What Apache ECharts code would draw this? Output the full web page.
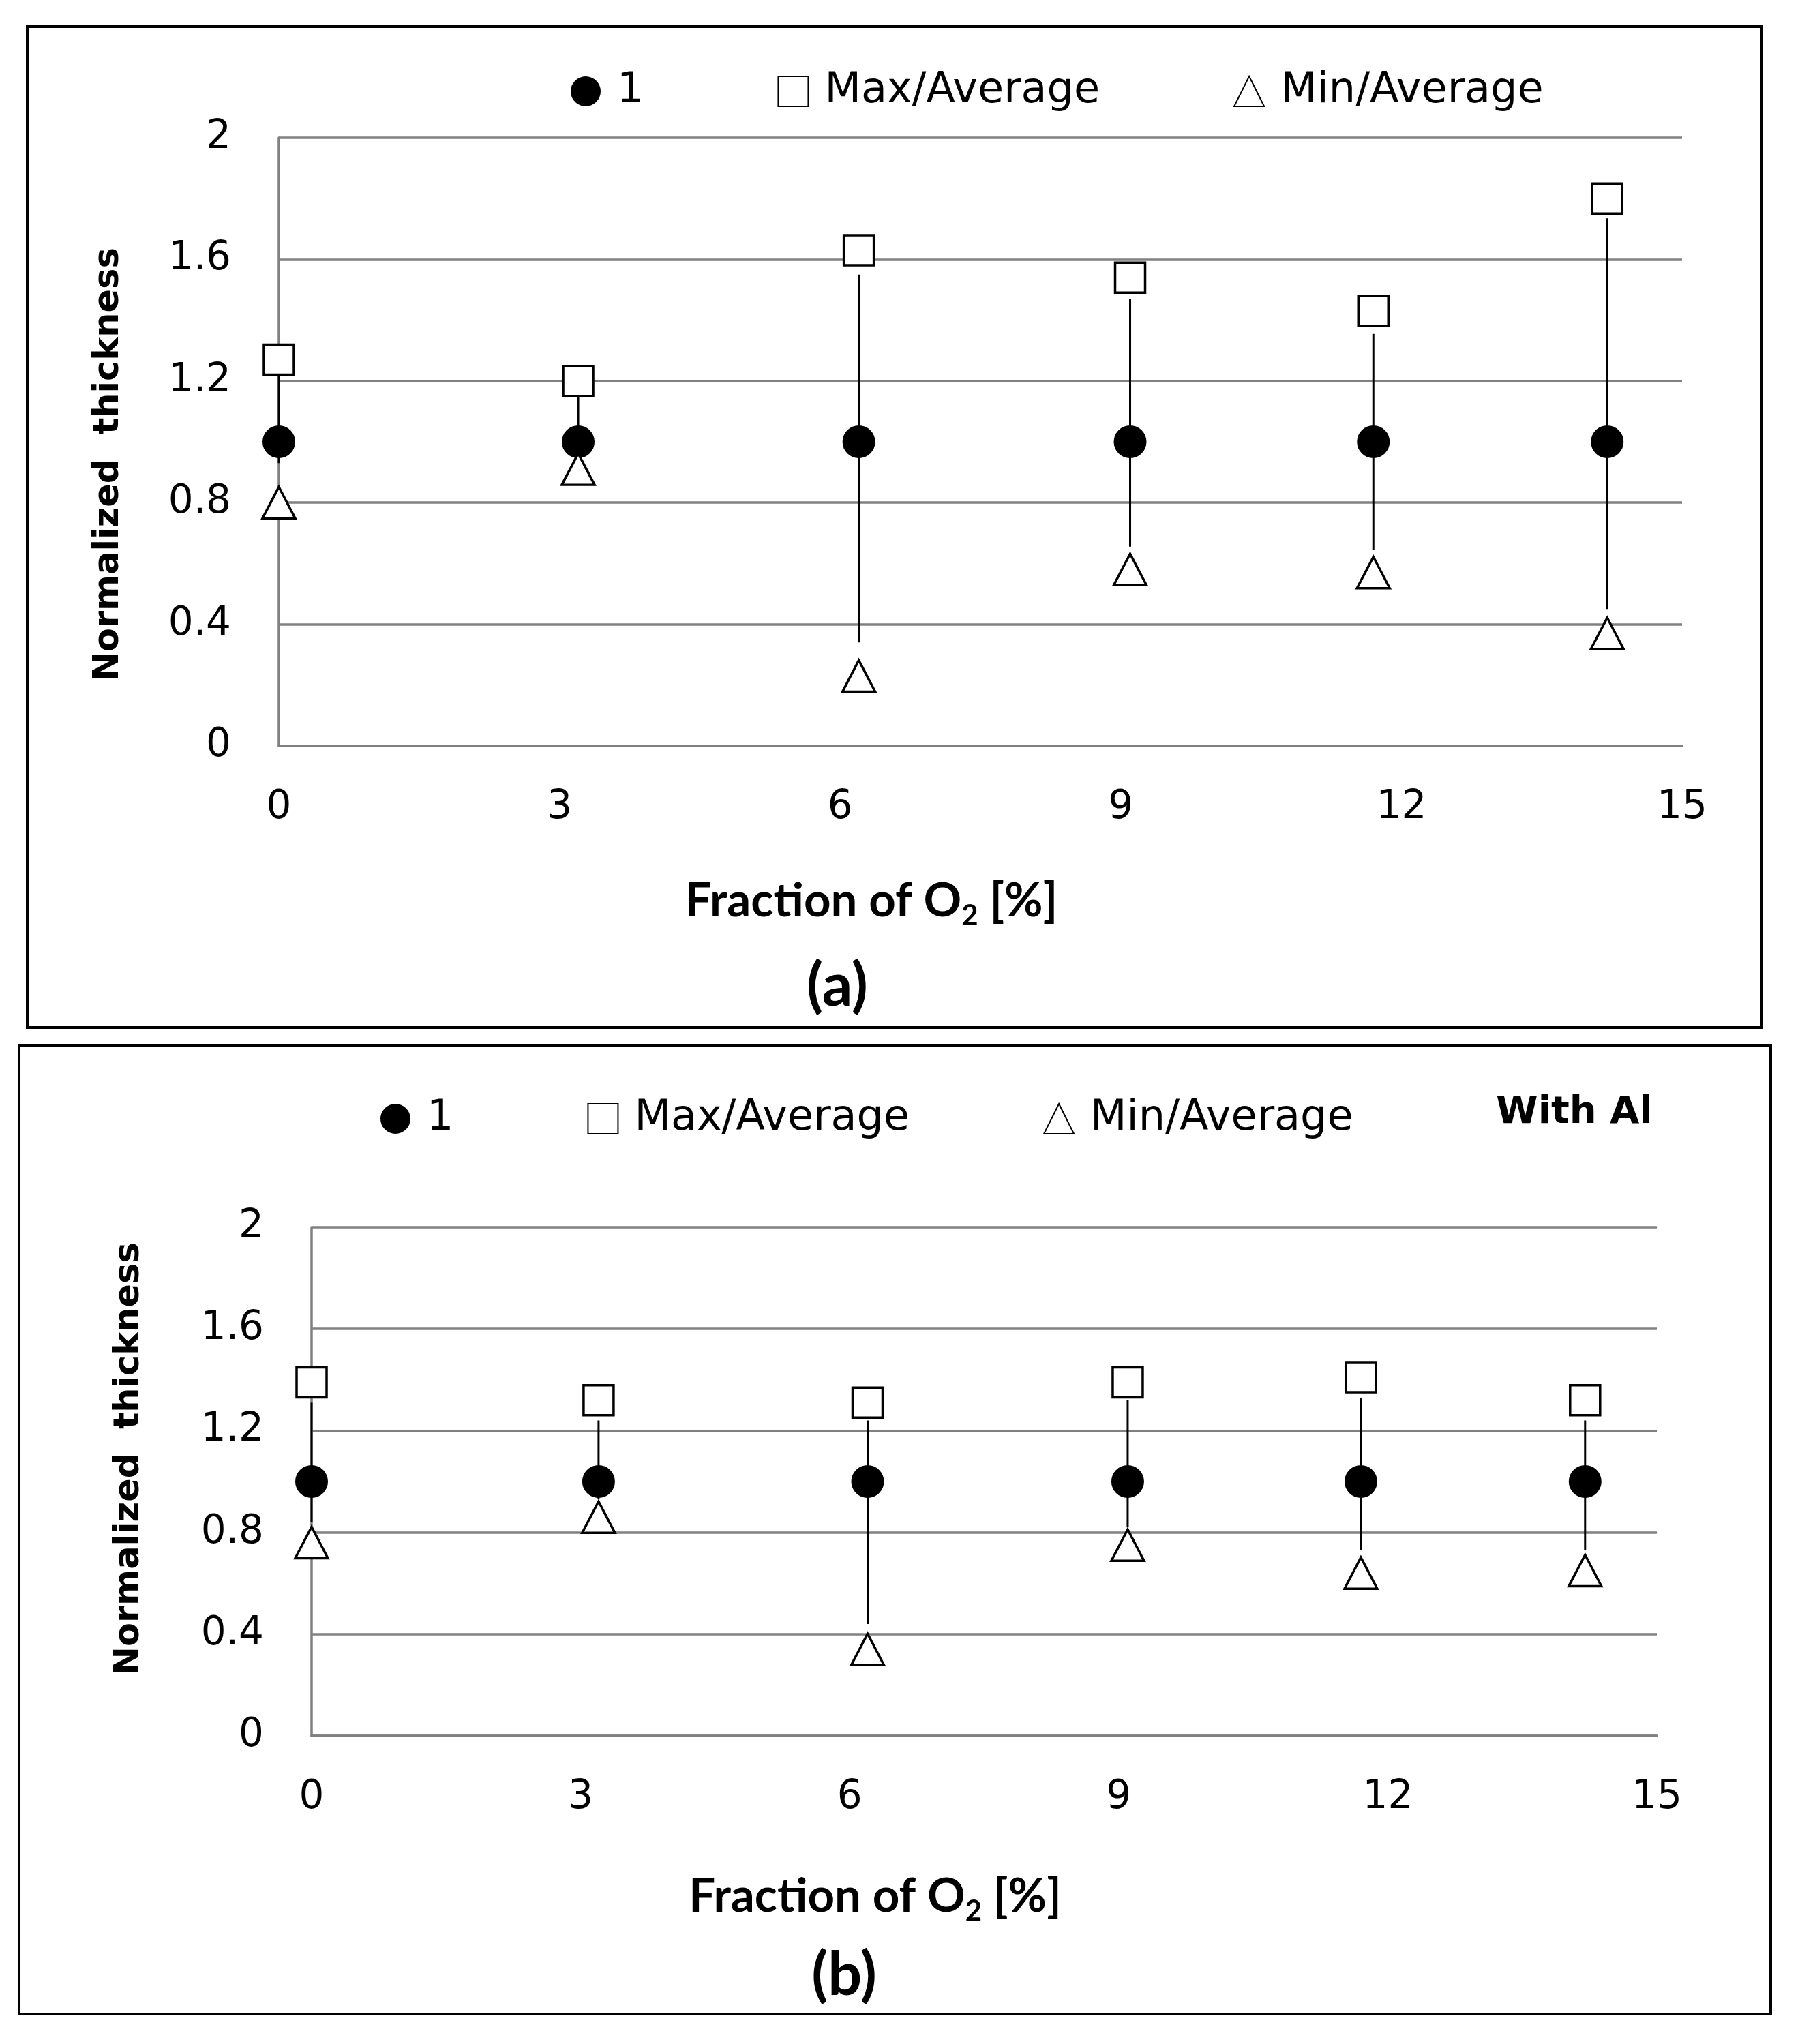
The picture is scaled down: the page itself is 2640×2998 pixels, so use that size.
<!DOCTYPE html>
<html>
<head>
<meta charset="utf-8">
<script src="https://cdn.jsdelivr.net/npm/echarts@6/dist/echarts.min.js"></script>
<style>
  html, body { margin: 0; padding: 0; background: #fff; }
  #chart { width: 2640px; height: 2998px; }
</style>
</head>
<body>
<div id="chart"></div>
<script>
// O2 fraction of each sample (same in both panels)
const xPos = [0, 3.2, 6.2, 9.1, 11.7, 14.2];
const xTickMin = 0, xTickMax = 15, xTickStep = 3;
const yTickMin = 0, yTickMax = 2, yTickStep = 0.4;

// (a) without Al
const avgA = [1, 1, 1, 1, 1, 1];
const maxA = [1.27, 1.2, 1.63, 1.54, 1.43, 1.8];
const minA = [0.8, 0.91, 0.23, 0.58, 0.57, 0.37];
const barTopA = [1.22, 1.15, 1.55, 1.47, 1.355, 1.735];
const barBotA = [0.93, 0.955, 0.34, 0.655, 0.645, 0.45];

// (b) with Al
const avgB = [1, 1, 1, 1, 1, 1];
const maxB = [1.39, 1.32, 1.31, 1.39, 1.41, 1.32];
const minB = [0.76, 0.86, 0.34, 0.75, 0.64, 0.65];
const barTopB = [1.31, 1.24, 1.24, 1.32, 1.33, 1.24];
const barBotB = [0.84, 0.93, 0.44, 0.82, 0.73, 0.73];

const seriesNames = ['1', 'Max/Average', 'Min/Average'];

const GRID_COLOR = '#808080';
const LABEL_FONT = 'DejaVu Sans';
const TITLE_FONT = 'Lato';

let chart = echarts.init(document.getElementById('chart'));
chart.setOption({
    backgroundColor: '#fff',
    animation: false,
    grid: [
        { left: 409, top: 202, width: 2058, height: 892 },
        { left: 457, top: 1800, width: 1973, height: 746 }
    ],
    legend: [
        buildLegend(837, 103),
        buildLegend(558, 1610)
    ],
    xAxis: [
        buildXAxis(0, 186),
        buildXAxis(1, 194)
    ],
    yAxis: [
        buildYAxis(0, 224, [0, 66, 0, 0]),
        buildYAxis(1, 242, [0, 0, 0, 66])
    ],
    series: [
        ...buildSeries(0, avgA, maxA, minA, barTopA, barBotA),
        ...buildSeries(1, avgB, maxB, minB, barTopB, barBotB)
    ],
    graphic: [
        { type: 'rect', silent: true, z: -1, shape: { x: 40, y: 39, width: 2544, height: 1468 },
          style: { fill: 'none', stroke: '#000', lineWidth: 4 } },
        { type: 'rect', silent: true, z: -1, shape: { x: 28, y: 1533, width: 2569, height: 1421 },
          style: { fill: 'none', stroke: '#000', lineWidth: 4 } },
        panelLabel('(a)', 1228, 1447),
        panelLabel('(b)', 1238, 2898),
        { type: 'text', x: 2194, y: 1632,
          style: { text: 'With Al', fontFamily: LABEL_FONT, fontWeight: 'bold', fontSize: 56,
                   fill: '#000', align: 'left', verticalAlign: 'middle' } }
    ]
});

function buildLegend(left, top) {
    return {
        left: left,
        top: top,
        padding: 0,
        itemGap: 196,
        itemWidth: 44,
        itemHeight: 44,
        data: seriesNames,
        selectedMode: false,
        textStyle: { fontFamily: LABEL_FONT, fontSize: 62, color: '#000', padding: [0, 0, 0, 19] }
    };
}

function buildXAxis(gridIndex, nameGap) {
    return {
        type: 'value',
        gridIndex: gridIndex,
        min: xTickMin,
        max: xTickMax,
        interval: xTickStep,
        axisLine: { show: true, onZero: false, lineStyle: { color: GRID_COLOR, width: 3.5 } },
        axisTick: { show: false },
        splitLine: { show: false },
        axisLabel: { fontFamily: LABEL_FONT, fontSize: 58, color: '#000', margin: 62 },
        name: '{t|Fraction of O}{s|2}{t| [%]}',
        nameLocation: 'middle',
        nameGap: nameGap,
        nameTextStyle: {
            padding: [0, 320, 0, 0],
            rich: {
                t: { fontFamily: TITLE_FONT, fontWeight: 'bold', fontSize: 69, color: '#000', lineHeight: 84 },
                s: { fontFamily: TITLE_FONT, fontWeight: 'bold', fontSize: 42, color: '#000', verticalAlign: 'bottom' }
            }
        }
    };
}

function buildYAxis(gridIndex, nameGap, namePadding) {
    return {
        type: 'value',
        gridIndex: gridIndex,
        min: yTickMin,
        max: yTickMax,
        interval: yTickStep,
        axisLine: { show: true, lineStyle: { color: GRID_COLOR, width: 3.5 } },
        axisTick: { show: false },
        splitLine: { show: true, lineStyle: { color: GRID_COLOR, width: 3.5 } },
        axisLabel: { fontFamily: LABEL_FONT, fontSize: 58, color: '#000', margin: 70 },
        name: 'Normalized  thickness',
        nameLocation: 'middle',
        nameGap: nameGap,
        nameTextStyle: { fontFamily: LABEL_FONT, fontWeight: 'bold', fontSize: 51, color: '#000', padding: namePadding }
    };
}

function buildSeries(idx, avg, max, min, barTop, barBot) {
    return [
        {
            type: 'custom',
            name: 'range' + idx,
            xAxisIndex: idx,
            yAxisIndex: idx,
            z: 1,
            encode: { x: 0, y: [1, 2] },
            data: xPos.map((x, i) => [x, barBot[i], barTop[i]]),
            renderItem: function (params, api) {
                const p1 = api.coord([api.value(0), api.value(2)]);
                const p2 = api.coord([api.value(0), api.value(1)]);
                return {
                    type: 'line',
                    shape: { x1: p1[0], y1: p1[1], x2: p2[0], y2: p2[1] },
                    style: { stroke: '#000', lineWidth: 3 }
                };
            }
        },
        {
            type: 'scatter',
            name: seriesNames[0],
            xAxisIndex: idx,
            yAxisIndex: idx,
            z: 3,
            symbol: 'circle',
            symbolSize: 48,
            itemStyle: { color: '#000', opacity: 1 },
            data: xPos.map((x, i) => [x, avg[i]])
        },
        {
            type: 'scatter',
            name: seriesNames[1],
            xAxisIndex: idx,
            yAxisIndex: idx,
            z: 3,
            symbol: 'rect',
            symbolSize: 44,
            itemStyle: { color: '#fff', borderColor: '#000', borderWidth: 3.5, opacity: 1 },
            data: xPos.map((x, i) => [x, max[i]])
        },
        {
            type: 'scatter',
            name: seriesNames[2],
            xAxisIndex: idx,
            yAxisIndex: idx,
            z: 3,
            symbol: 'triangle',
            symbolSize: [48, 46],
            itemStyle: { color: '#fff', borderColor: '#000', borderWidth: 3.5, opacity: 1 },
            data: xPos.map((x, i) => [x, min[i]])
        }
    ];
}

function panelLabel(text, x, y) {
    return {
        type: 'text',
        x: x,
        y: y,
        style: { text: text, fontFamily: TITLE_FONT, fontWeight: 'bold', fontSize: 88,
                 fill: '#000', align: 'center', verticalAlign: 'middle' }
    };
}
</script>
</body>
</html>
